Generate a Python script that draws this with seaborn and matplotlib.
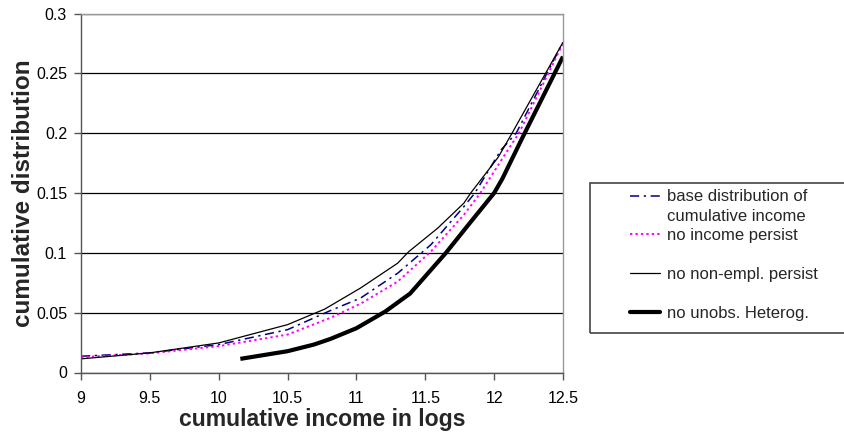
import matplotlib
matplotlib.use("Agg")
import matplotlib.pyplot as plt
import seaborn as sns
from matplotlib.lines import Line2D
from matplotlib.patches import Rectangle

# ---- data ----
base_x = [9.0, 9.5, 10.0, 10.5, 10.81, 11.03, 11.30, 11.54, 11.78, 11.86, 12.05, 12.16, 12.5]
base_y = [0.0136, 0.0164, 0.0233, 0.0358, 0.0517, 0.0622, 0.083, 0.1067, 0.1386, 0.150, 0.186, 0.200, 0.276]

income_x = [9.0, 9.5, 10.0, 10.5, 10.81, 11.03, 11.30, 11.54, 11.78, 11.90, 12.10, 12.18, 12.5]
income_y = [0.0128, 0.016, 0.022, 0.0317, 0.0456, 0.0575, 0.076, 0.101, 0.1317, 0.150, 0.186, 0.200, 0.275]

nonempl_x = [9.0, 9.5, 10.0, 10.5, 10.77, 11.03, 11.30, 11.38, 11.59, 11.78, 11.83, 12.03, 12.13, 12.5]
nonempl_y = [0.0114, 0.0164, 0.0247, 0.040, 0.053, 0.0706, 0.0914, 0.101, 0.1206, 0.1415, 0.150, 0.180, 0.200, 0.276]

unobs_x = [10.157, 10.5, 10.69, 10.81, 11.0, 11.21, 11.39, 11.65, 11.81, 12.0, 12.06, 12.2, 12.5]
unobs_y = [0.0114, 0.0178, 0.0233, 0.028, 0.037, 0.051, 0.066, 0.100, 0.123, 0.150, 0.162, 0.195, 0.264]

labels = ["base distribution of\ncumulative income", "no income persist",
          "no non-empl. persist", "no unobs. Heterog."]
x_ticks = [9, 9.5, 10, 10.5, 11, 11.5, 12, 12.5]
x_tick_labels = ["9", "9.5", "10", "10.5", "11", "11.5", "12", "12.5"]
y_ticks = [0, 0.05, 0.1, 0.15, 0.2, 0.25, 0.3]
y_tick_labels = ["0", "0.05", "0.1", "0.15", "0.2", "0.25", "0.3"]

sns.set_style("white")
plt.rcParams["font.family"] = ["Liberation Sans", "DejaVu Sans"]

W, H = 845, 443
fig = plt.figure(figsize=(W / 100, H / 100), dpi=100)
ax = fig.add_axes([81 / W, 1 - 372.5 / H, (563 - 81) / W, (372.5 - 13.5) / H])

styles = [
    dict(color="#000080", lw=1.1, linestyle=(0, (6, 3, 1.5, 3))),
    dict(color="#FF00FF", lw=1.4, linestyle=(0, (1.2, 1.6))),
    dict(color="black", lw=0.9, linestyle="-"),
    dict(color="black", lw=3.0, linestyle="-"),
]
series = [(base_x, base_y), (income_x, income_y), (nonempl_x, nonempl_y), (unobs_x, unobs_y)]
for (xs, ys), st in zip(series, styles):
    sns.lineplot(x=xs, y=ys, ax=ax, sort=False, estimator=None, solid_capstyle="butt", **st)

ax.set_xlim(9, 12.5)
ax.set_ylim(0, 0.3)
ax.set_xticks(x_ticks)
ax.set_xticklabels(x_tick_labels)
ax.set_yticks(y_ticks)
ax.set_yticklabels(y_tick_labels)
ax.yaxis.grid(True, color="black", lw=0.9)
ax.xaxis.grid(False)
ax.set_axisbelow(True)

for s in ["left", "bottom"]:
    ax.spines[s].set_color("#555555")
    ax.spines[s].set_linewidth(1.0)
for s in ["right", "top"]:
    ax.spines[s].set_color("#999999")
    ax.spines[s].set_linewidth(1.0)

ax.tick_params(axis="both", direction="out", length=5, width=1, color="#555555",
               labelsize=11.5, labelcolor="black")
ax.tick_params(axis="x", pad=8, bottom=True)
ax.tick_params(axis="y", pad=5, left=True)

ax.set_xlabel("cumulative income in logs", fontsize=16.6, fontweight="bold", labelpad=2)
ax.set_ylabel("cumulative distribution", fontsize=17.5, fontweight="bold", labelpad=0.5)

# legend frame
fig.patches.append(Rectangle((590 / W, 1 - 333 / H), (W + 5 - 590) / W, (333 - 183) / H,
                             transform=fig.transFigure, fill=False, edgecolor="#444444",
                             lw=1.2, zorder=5))

handles = [
    Line2D([], [], **styles[0]),
    Line2D([], [], color="none"),
    Line2D([], [], **styles[1]),
    Line2D([], [], color="none"),
    Line2D([], [], **styles[2]),
    Line2D([], [], color="none"),
    Line2D([], [], **styles[3]),
]
leg_labels = [labels[0].split("\n")[0], labels[0].split("\n")[1], labels[1], "",
              labels[2], "", labels[3]]
fig.legend(handles, leg_labels, loc="upper left", bbox_to_anchor=(630 / W, 1 - 189.5 / H),
           frameon=False, fontsize=12, handlelength=1.8, handletextpad=0.42,
           labelspacing=0.265, borderpad=0, borderaxespad=0)

fig.savefig("out.png", dpi=100)
